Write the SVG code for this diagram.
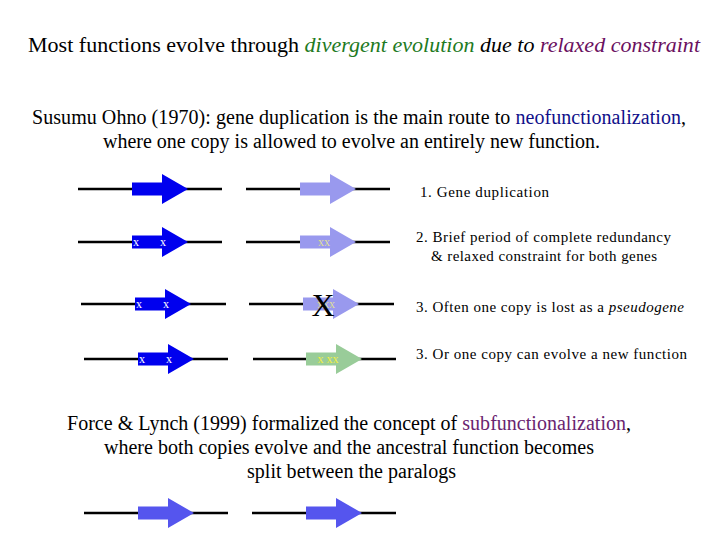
<svg xmlns="http://www.w3.org/2000/svg" xmlns:xlink="http://www.w3.org/1999/xlink" width="720" height="540" viewBox="0 0 720 540">
<style>
text{font-family:"Liberation Serif","Times New Roman",serif;fill:#000}
.t1{font-size:22px}
.t2{font-size:20px}
.lab{font-size:15px}
.g{fill:#1e7a1e}
.p{fill:#6a1060}
.b{fill:#10108a}
.sp{fill:#6a2470}
.ln{stroke:#000;stroke-width:2.5}
.dk{fill:#0000ee}
.lt{fill:#9999ee}
.md{fill:#5555ee}
.gr{fill:#99cc99}
.xw{font-size:12px;fill:#ffffff}
.xy{font-size:12px;fill:#dddd99}
.xg{font-size:12px;fill:#eeee44}
</style>
<defs>
<path id="gene" d="M0,-6.5 H30 V-15 L56,0 L30,15 V6.5 H0 Z"/>
</defs>
<rect width="720" height="540" fill="#fff"/>
<text class="t1" x="28" y="52" textLength="672" lengthAdjust="spacing">Most functions evolve through <tspan class="g" font-style="italic">divergent evolution</tspan> <tspan font-style="italic">due to</tspan> <tspan class="p" font-style="italic">relaxed constraint</tspan></text>
<text class="t2" x="32" y="124" textLength="654" lengthAdjust="spacing">Susumu Ohno (1970):  gene duplication is the main route to <tspan class="b">neofunctionalization</tspan>,</text>
<text class="t2" x="103" y="148" textLength="497" lengthAdjust="spacing">where one copy is allowed to evolve an entirely new function.</text>

<g id="row1-left"><line class="ln" x1="78" y1="189" x2="222" y2="189"/><use href="#gene" x="132" y="189" class="dk"/></g>
<g id="row1-right"><line class="ln" x1="246" y1="189" x2="390" y2="189"/><use href="#gene" x="300" y="189" class="lt"/></g>
<g id="label1"><text class="lab" x="420" y="197" textLength="129" lengthAdjust="spacing">1.  Gene duplication</text></g>

<g id="row2-left"><line class="ln" x1="78" y1="242" x2="222" y2="242"/><use href="#gene" x="132" y="242" class="dk"/><text class="xw" x="136" y="246" text-anchor="middle">x</text><text class="xw" x="163" y="246" text-anchor="middle">x</text></g>
<g id="row2-right"><line class="ln" x1="246" y1="242" x2="390" y2="242"/><use href="#gene" x="300" y="242" class="lt"/><text class="xy" x="324" y="246" text-anchor="middle">xx</text></g>
<g id="label2"><text class="lab" x="416" y="242" textLength="255" lengthAdjust="spacing">2.  Brief period of complete redundancy</text><text class="lab" x="431" y="261" textLength="226" lengthAdjust="spacing">&amp; relaxed constraint for both genes</text></g>

<g id="row3-left"><line class="ln" x1="81" y1="304" x2="226" y2="304"/><use href="#gene" x="135" y="304" class="dk"/><text class="xw" x="139" y="308" text-anchor="middle">x</text><text class="xw" x="166" y="308" text-anchor="middle">x</text></g>
<g id="row3-right"><line class="ln" x1="249" y1="304" x2="394" y2="304"/><use href="#gene" x="303" y="304" class="lt"/><text class="xy" x="326" y="308" text-anchor="middle">xxx</text><text x="323" y="316" font-size="32" text-anchor="middle">X</text></g>
<g id="label3"><text class="lab" x="416" y="312" textLength="268" lengthAdjust="spacing">3.  Often one copy is lost as a <tspan font-style="italic">pseudogene</tspan></text></g>

<g id="row4-left"><line class="ln" x1="84" y1="359" x2="228" y2="359"/><use href="#gene" x="138" y="359" class="dk"/><text class="xw" x="142" y="363" text-anchor="middle">x</text><text class="xw" x="169" y="363" text-anchor="middle">x</text></g>
<g id="row4-right"><line class="ln" x1="253" y1="359" x2="396" y2="359"/><use href="#gene" x="306" y="359" class="gr"/><text class="xg" x="328" y="363" text-anchor="middle">x xx</text></g>
<g id="label4"><text class="lab" x="416" y="359" textLength="271" lengthAdjust="spacing">3.  Or one copy can evolve a new function</text></g>

<text class="t2" x="67" y="430" textLength="564" lengthAdjust="spacing">Force &amp; Lynch (1999) formalized the concept of <tspan class="sp">subfunctionalization</tspan>,</text>
<text class="t2" x="104" y="454" textLength="490" lengthAdjust="spacing">where both copies evolve and the ancestral function becomes</text>
<text class="t2" x="247" y="478" textLength="209" lengthAdjust="spacing">split between the paralogs</text>

<g id="row5-left"><line class="ln" x1="84" y1="513" x2="228" y2="513"/><use href="#gene" x="138" y="513" class="md"/></g>
<g id="row5-right"><line class="ln" x1="252" y1="513" x2="396" y2="513"/><use href="#gene" x="306" y="513" class="md"/></g>
</svg>
